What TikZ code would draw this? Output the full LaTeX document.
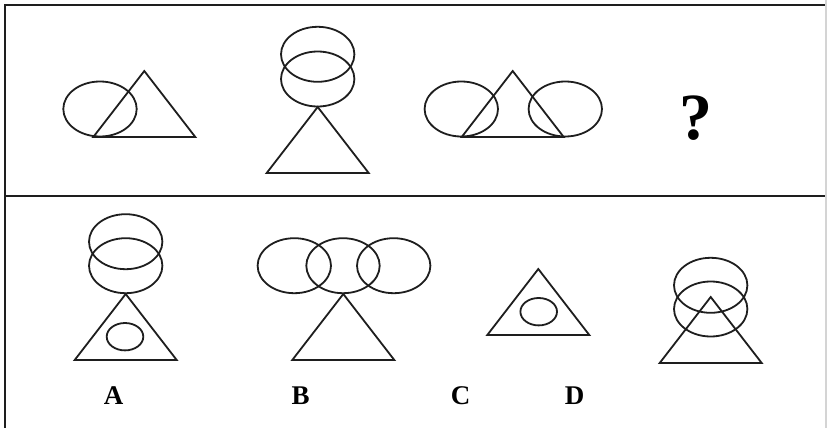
\documentclass[tikz,border=0pt]{standalone}
\usepackage{fontspec}
\setmainfont{Liberation Serif}
\usepackage{tikz}
\definecolor{ink}{HTML}{1E1E1E}
\definecolor{edge}{HTML}{D4D4D4}
\tikzset{
  frame/.style={draw=ink, line width=2.4pt},
  rim/.style={draw=edge, line width=1.3pt},
  fig/.style={draw=ink, line width=1.8pt, line join=miter},
  bigring/.style={x radius=36.7pt, y radius=27.5pt},
  dotring/.style={x radius=18.3pt, y radius=13.7pt},
  lab/.style={font=\fontsize{27}{27}\selectfont\bfseries, anchor=base, inner sep=0pt},
  qmark/.style={font=\fontsize{66}{66}\selectfont\bfseries, anchor=base, inner sep=0pt}
}
% triangle of fixed size, given its apex
\newcommand{\Tri}[2]{\draw[fig] (#1,#2) -- ++(51,66) -- ++(-102,0) -- cycle;}

\begin{document}
\begin{tikzpicture}[x=1pt, y=-1pt, line cap=butt]
  \useasboundingbox[fill=white] (0,0) rectangle (828,428);
  % frame
  \draw[rim] (826,0) -- (826,428);
  \draw[frame] (5,428) -- (5,5) -- (825,5);
  \draw[frame] (5,196) -- (825,196);
  % question row
  \draw[fig] (100,109) ellipse [bigring];
  \Tri{144.3}{71}
  \draw[fig] (317.7,54.3) ellipse [bigring];
  \draw[fig] (317.7,79) ellipse [bigring];
  \Tri{317.7}{107}
  \draw[fig] (461.3,109) ellipse [bigring];
  \draw[fig] (565.3,109) ellipse [bigring];
  \Tri{512.7}{71}
  \node[qmark] (q) at (696.3,139.5) {?};
  % options
  \draw[fig] (125.7,241.7) ellipse [bigring];
  \draw[fig] (125.7,265.7) ellipse [bigring];
  \Tri{125.7}{294}
  \draw[fig] (125,336.7) ellipse [dotring];
  \draw[fig] (294.3,265.7) ellipse [bigring];
  \draw[fig] (343,265.7) ellipse [bigring];
  \draw[fig] (393.7,265.7) ellipse [bigring];
  \Tri{343.3}{294}
  \Tri{538.3}{269}
  \draw[fig] (538.7,311.7) ellipse [dotring];
  \draw[fig] (710.7,285.3) ellipse [bigring];
  \draw[fig] (710.7,309) ellipse [bigring];
  \Tri{710.7}{297}
  \node[lab] (optA) at (113.7,404) {A};
  \node[lab] (optB) at (300.7,404) {B};
  \node[lab] (optC) at (460.5,404) {C};
  \node[lab] (optD) at (574.5,404) {D};
\end{tikzpicture}
\end{document}
